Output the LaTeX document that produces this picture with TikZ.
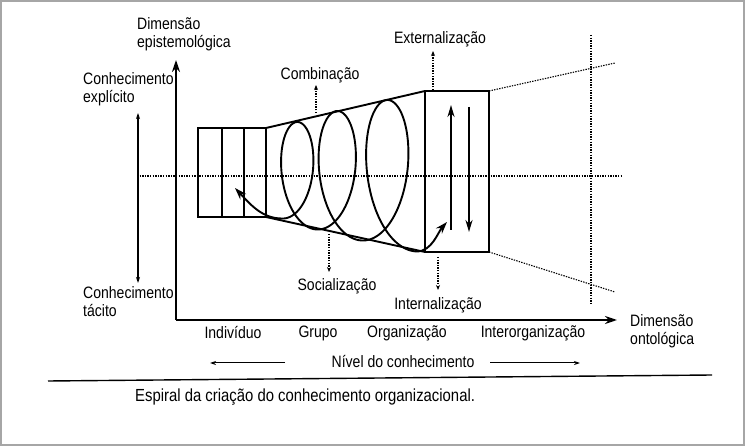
\documentclass[tikz,border=0pt]{standalone}
\usepackage{fontspec}
\setmainfont{Liberation Sans}[FakeStretch=0.85]
\usetikzlibrary{arrows.meta}

\begin{document}
\begin{tikzpicture}[x=1pt,y=-1pt,font=\fontsize{16.5}{18}\selectfont,
  lbl/.style={inner sep=0pt},
  axis/.style={line width=1.9pt,-{Stealth[length=12pt,width=8pt]}},
  heavy/.style={line width=1.9pt},
  dots/.style={line width=1.1pt,dash pattern=on 1.4pt off 1.2pt},
  dotarrow/.style={dots,-{Stealth[length=5pt,width=4pt]}},
  thinarrow/.style={line width=1pt,-{Stealth[length=6pt,width=4pt]}}]
\useasboundingbox (0,0) rectangle (745,446);
\draw[gray!70,line width=1.5pt] (1,1) rectangle (744,445);

\coordinate (O) at (176,320);
\coordinate (ytip) at (176,60);
\coordinate (xtip) at (617,320);
\draw[axis] (O) -- (ytip);
\draw[axis] (O) -- (xtip);

\node[lbl,anchor=west,align=left] (epist) at (137,34) {Dimensão\\epistemológica};
\node[lbl,anchor=west,align=left] (explicit) at (83,89) {Conhecimento\\explícito};
\node[lbl,anchor=west,align=left] (tacit) at (83,302) {Conhecimento\\tácito};
\node[lbl,anchor=west,align=left] (ontol) at (630,331) {Dimensão\\ontológica};

\coordinate (expl) at (138,113);
\coordinate (tac) at (138,283);
\draw[line width=1.3pt,{Stealth[length=6pt,width=4pt]}-{Stealth[length=6pt,width=4pt]}] (expl) -- (tac);

\coordinate (midL) at (137,176);
\coordinate (midR) at (623,176);
\draw[dots] (midL) -- (midR);

\draw[heavy] (198,128) rectangle (266,217);
\foreach \xx in {222,244} \draw[heavy] (\xx,128) -- (\xx,217);

\coordinate (fA) at (266,128);
\coordinate (fB) at (266,217);
\coordinate (bTL) at (425,91);
\coordinate (bBL) at (425,252);
\coordinate (bTR) at (489,91);
\coordinate (bBR) at (489,252);
\coordinate (farT) at (615,63);
\coordinate (farB) at (615,292);
\draw[heavy] (fA) -- (bTL) (fB) -- (bBL);
\draw[heavy] (bTL) rectangle (bBR);
\draw[dots] (bTR) -- (farT) (bBR) -- (farB);
\draw[dots] (591,35) -- (591,305);

\draw[heavy,-{Stealth[length=12pt,width=7pt]}] (451,230) -- (451,105);
\draw[heavy,-{Stealth[length=12pt,width=7pt]}] (469,107) -- (469,232);

\coordinate (spiralL) at (235,188);
\coordinate (spiralR) at (447,222);
\draw[heavy,{Stealth[length=12pt,width=8pt]}-{Stealth[length=12pt,width=8pt]}] (spiralL) .. controls (250,204) and (262,218.5) .. (281.75,218.5)
  -- plot[domain=0:6,samples=300,variable=\t] ({281.75+15*\t+1.25*\t*\t+(21.9+2.375*\t)*sin(180*\t)},{173+(45.5+5.5*\t)*cos(180*\t)})
  .. controls (432,251.5) and (438,232) .. (spiralR);

\node[lbl] (comb) at (320,75) {Combinação};
\node[lbl] (ext) at (440,39) {Externalização};
\node[lbl] (soc) at (337,286) {Socialização};
\node[lbl] (int) at (438,305) {Internalização};
\coordinate (combS) at (316,113);
\coordinate (extS) at (433,90);
\coordinate (socS) at (329,234);
\coordinate (intS) at (438,257);
\draw[dotarrow] (combS) -- (316,85);
\draw[dotarrow] (extS) -- (433,51);
\draw[dotarrow] (socS) -- (329,272);
\draw[dotarrow] (intS) -- (438,290);

\node[lbl] (indiv) at (233,333) {Indivíduo};
\node[lbl] (grupo) at (318,333) {Grupo};
\node[lbl] (org) at (407,333) {Organização};
\node[lbl] (inter) at (533,333) {Interorganização};
\node[lbl] (nivel) at (403,362) {Nível do conhecimento};
\coordinate (nlA) at (285,363);
\coordinate (nlB) at (210,363);
\coordinate (nrA) at (490,363);
\coordinate (nrB) at (580,363);
\draw[thinarrow] (nlA) -- (nlB);
\draw[thinarrow] (nrA) -- (nrB);

\draw[line width=1.4pt] (48,381) -- (712,375);
\node[lbl,anchor=west,font=\fontsize{17.5}{19}\selectfont] (cap) at (135,397) {Espiral da criação do conhecimento organizacional.};
\end{tikzpicture}
\end{document}
